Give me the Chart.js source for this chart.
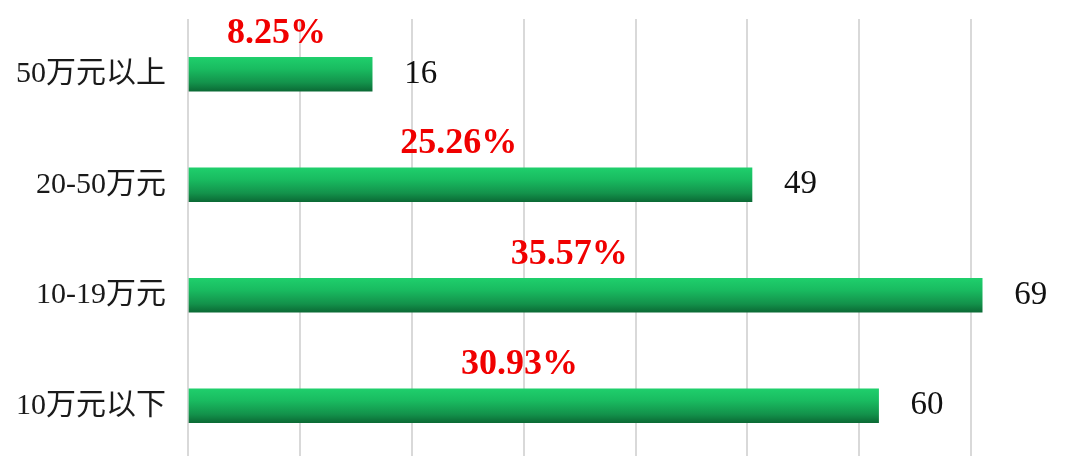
<!DOCTYPE html>
<html>
<head>
<meta charset="utf-8">
<script src="https://cdn.jsdelivr.net/npm/chart.js@4/dist/chart.umd.min.js"></script>
<style>
    html, body { margin: 0; padding: 0; background: #fff; overflow: hidden; }
    #wrap { position: absolute; left: 0; top: 0; width: 1090px; height: 461px; }
</style>
</head>
<body>
<div id="wrap"><canvas id="chart"></canvas></div>
<script>
const categories = ["50万元以上", "20-50万元", "10-19万元", "10万元以下"]
const counts = [16, 49, 69, 60]
const shares = [8.25, 25.26, 35.57, 30.93]

// grid step of the hidden value axis, 8 steps across the plot
const gridStep = 9.72
const gridCount = 8

function barGradient(context) {
    const chart = context.chart
    if (context.type !== "data" || !chart.chartArea || !chart.scales.y) return "#16a955"
    const yc = chart.scales.y.getPixelForValue(context.dataIndex)
    const g = chart.ctx.createLinearGradient(0, yc - 17, 0, yc + 17)
    g.addColorStop(0, "#1fcf6c")
    g.addColorStop(0.35, "#19bb60")
    g.addColorStop(0.75, "#13924b")
    g.addColorStop(1, "#0b6a35")
    return g
}

const barLabels = {
    id: "barLabels",
    afterDatasetsDraw(chart) {
        const ctx = chart.ctx
        const xScale = chart.scales.x
        const meta = chart.getDatasetMeta(0)
        ctx.save()
        meta.data.forEach((bar, i) => {
            ctx.textBaseline = "middle"
            ctx.textAlign = "left"
            ctx.fillStyle = "#111111"
            ctx.font = "33px 'Liberation Serif', 'Times New Roman', serif"
            ctx.fillText(String(counts[i]), bar.x + 32, bar.y)

            ctx.textAlign = "center"
            ctx.fillStyle = "#f00000"
            ctx.font = "bold 36px 'Liberation Serif', 'Times New Roman', serif"
            ctx.fillText(shares[i].toFixed(2) + "%", xScale.getPixelForValue(counts[i] * 0.48), bar.y - 41)
        })
        ctx.restore()
    }
}

new Chart(document.getElementById("chart"), {
    type: "bar",
    data: {
        labels: categories,
        datasets: [{
            data: counts,
            backgroundColor: barGradient,
            borderWidth: 0,
            barThickness: 34
        }]
    },
    options: {
        indexAxis: "y",
        responsive: true,
        maintainAspectRatio: false,
        animation: false,
        layout: { padding: { top: 19, right: 7, bottom: 0, left: 0 } },
        plugins: {
            legend: { display: false },
            tooltip: { enabled: false }
        },
        scales: {
            x: {
                min: 0,
                max: gridStep * gridCount,
                afterBuildTicks(axis) {
                    const ticks = []
                    for (let k = 0; k <= gridCount; k++) ticks.push({ value: k * gridStep })
                    axis.ticks = ticks
                },
                afterFit(axis) {
                    axis.height = 0
                    axis.paddingLeft = 0
                    axis.paddingRight = 0
                },
                ticks: { display: false },
                border: { display: false },
                grid: { color: "#d9d9d9", lineWidth: 2, drawTicks: false }
            },
            y: {
                afterFit(axis) {
                    axis.width = 188
                    axis.paddingTop = 0
                    axis.paddingBottom = 0
                },
                border: { display: false },
                grid: { display: false, drawTicks: false },
                ticks: {
                    padding: 22,
                    color: "#1a1a1a",
                    font: { family: "'Liberation Serif', 'Noto Sans CJK SC', serif", size: 30 }
                }
            }
        }
    },
    plugins: [barLabels]
})
</script>
</body>
</html>
